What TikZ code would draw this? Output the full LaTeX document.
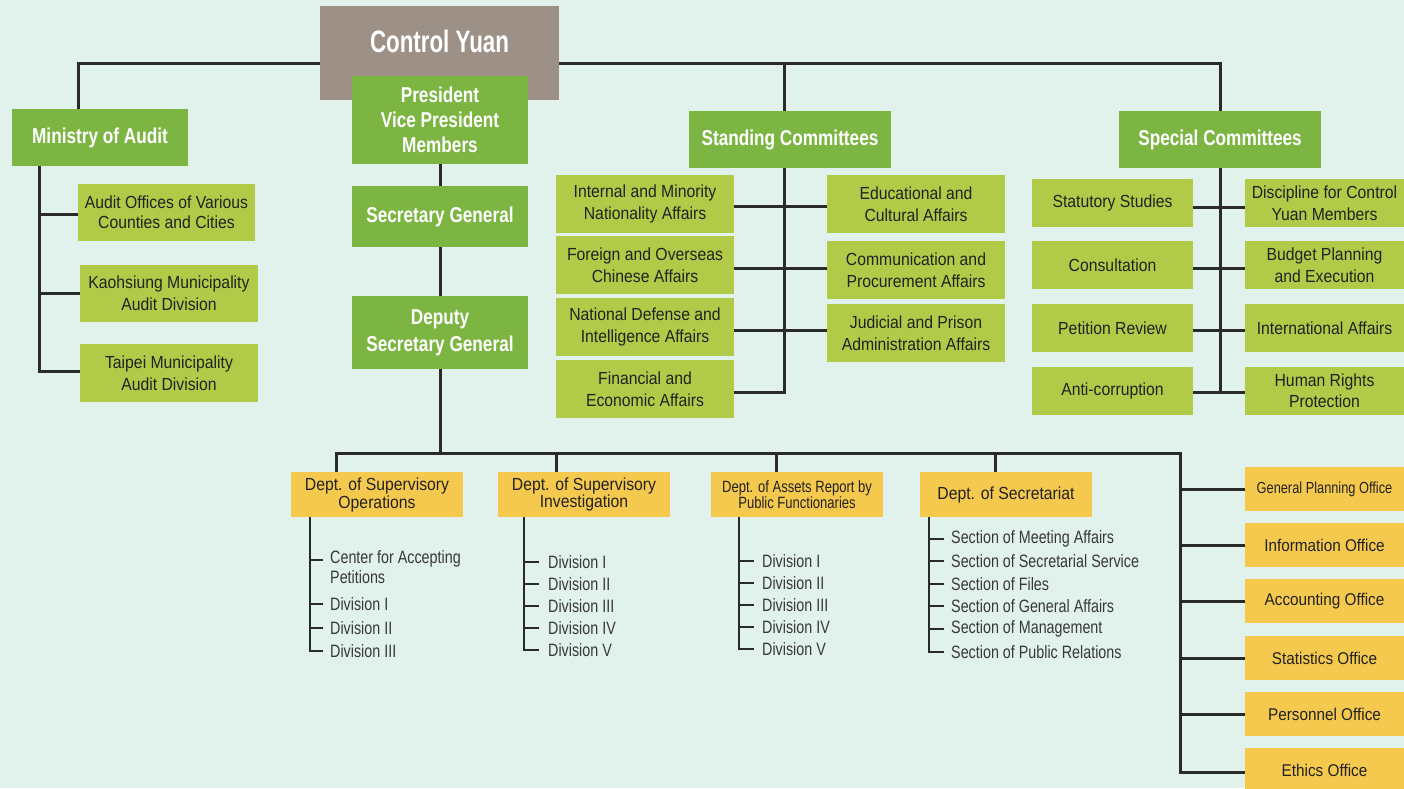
\documentclass[tikz,border=0pt]{standalone}
\usepackage{fontspec}
\setmainfont{Liberation Sans}[FakeStretch=0.9]
\newfontfamily\nfont{Liberation Sans}[FakeStretch=0.8]
\newfontfamily\cfont{Liberation Sans}[FakeStretch=0.72]
\definecolor{bgc}{HTML}{E1F2EC}
\definecolor{dgreen}{HTML}{7DB543}
\definecolor{lgreen}{HTML}{B1CB48}
\definecolor{yell}{HTML}{F5C84E}
\definecolor{cgray}{HTML}{9C9087}
\definecolor{txt}{HTML}{222222}
\definecolor{subtxt}{HTML}{383838}
\definecolor{linec}{HTML}{2A2A2A}
\pgfdeclarelayer{background}
\pgfdeclarelayer{edges}
\pgfsetlayers{background,edges,main}
\tikzset{
  box/.style={rectangle, inner sep=0pt, align=center},
  dg/.style={box, fill=dgreen, text=white, font=\nfont\bfseries\fontsize{21.5}{25}\selectfont},
  lg/.style={box, fill=lgreen, text=txt, font=\fontsize{17.5}{21.5}\selectfont},
  yl/.style={box, fill=yell, text=txt, font=\fontsize{17.5}{18}\selectfont, minimum width=172pt, minimum height=45pt},
  off/.style={box, fill=yell, text=txt, font=\fontsize{17}{20}\selectfont, minimum width=159pt, minimum height=44pt},
  sub/.style={inner sep=0pt, anchor=west, align=left, text=subtxt, font=\nfont\fontsize{17.9}{20}\selectfont},
  conn/.style={draw=linec, line width=3pt},
  tick/.style={draw=linec, line width=2.6pt},
}
\begin{document}
\begin{tikzpicture}[x=1pt,y=-1pt]
\begin{pgfonlayer}{background}
\fill[bgc] (0,0) rectangle (1404,788);
\end{pgfonlayer}
\useasboundingbox (0,0) rectangle (1404,788);

% top
\node[box, fill=cgray, text=white, font=\cfont\bfseries\fontsize{31}{31}\selectfont,
  minimum width=239pt, text height=46pt, text depth=48pt] (cy) at (439.5,53) {Control Yuan};
\node[dg, minimum width=176pt, minimum height=57pt] (mini) at (100,137.5) {Ministry of Audit};
\node[dg, minimum width=176pt, minimum height=88pt] (pres) at (440,120) {President\\Vice President\\Members};
\node[dg, minimum width=176pt, minimum height=61pt] (sg) at (440,216.5) {Secretary General};
\node[dg, minimum width=176pt, minimum height=73pt, font=\nfont\bfseries\fontsize{21.5}{27}\selectfont] (dsg) at (440,332.5) {Deputy\\Secretary General};
\node[dg, minimum width=202pt, minimum height=57pt] (stand) at (790,139.5) {Standing Committees};
\node[dg, minimum width=202pt, minimum height=57pt] (spec) at (1220,139.5) {Special Committees};

% ministry of audit
\node[lg, minimum width=177pt, minimum height=57pt, font=\fontsize{17.5}{20}\selectfont] (ao1) at (166.5,212.5) {Audit Offices of Various\\Counties and Cities};
\node[lg, minimum width=178pt, minimum height=57pt] (ao2) at (169,293) {Kaohsiung Municipality\\Audit Division};
\node[lg, minimum width=178pt, minimum height=58pt] (ao3) at (169,373) {Taipei Municipality\\Audit Division};

% standing committees
\node[lg, minimum width=178pt, minimum height=58pt] (sl1) at (645,204) {Internal and Minority\\Nationality Affairs};
\node[lg, minimum width=178pt, minimum height=58pt] (sl2) at (645,265) {Foreign and Overseas\\Chinese Affairs};
\node[lg, minimum width=178pt, minimum height=58pt] (sl3) at (645,327) {National Defense and\\Intelligence Affairs};
\node[lg, minimum width=178pt, minimum height=58pt] (sl4) at (645,389) {Financial and\\Economic Affairs};
\node[lg, minimum width=178pt, minimum height=58pt] (sr1) at (916,204) {Educational and\\Cultural Affairs};
\node[lg, minimum width=178pt, minimum height=58pt] (sr2) at (916,270) {Communication and\\Procurement Affairs};
\node[lg, minimum width=178pt, minimum height=58pt] (sr3) at (916,333) {Judicial and Prison\\Administration Affairs};

% special committees
\node[lg, minimum width=161pt, minimum height=48pt] (pl1) at (1112.5,203) {Statutory Studies};
\node[lg, minimum width=161pt, minimum height=48pt] (pl2) at (1112.5,265) {Consultation};
\node[lg, minimum width=161pt, minimum height=48pt] (pl3) at (1112.5,328) {Petition Review};
\node[lg, minimum width=161pt, minimum height=48pt] (pl4) at (1112.5,390.5) {Anti-corruption};
\node[lg, minimum width=159pt, minimum height=48pt] (pr1) at (1324.5,203) {Discipline for Control\\Yuan Members};
\node[lg, minimum width=159pt, minimum height=48pt] (pr2) at (1324.5,265) {Budget Planning\\and Execution};
\node[lg, minimum width=159pt, minimum height=48pt] (pr3) at (1324.5,328) {International Affairs};
\node[lg, minimum width=159pt, minimum height=48pt] (pr4) at (1324.5,390.5) {Human Rights\\Protection};

% departments
\node[yl] (d1) at (377,494.5) {Dept. of Supervisory\\Operations};
\node[yl, font=\fontsize{17.5}{17}\selectfont] (d2) at (584,494.5) {Dept. of Supervisory\\Investigation};
\node[yl, font=\nfont\fontsize{16.3}{16.5}\selectfont] (d3) at (797,494.5) {Dept. of Assets Report by\\Public Functionaries};
\node[yl] (d4) at (1006,494.5) {Dept. of Secretariat};

% offices
\node[off, font=\nfont\fontsize{16}{18}\selectfont] (of1) at (1324.5,489) {General Planning Office};
\node[off] (of2) at (1324.5,545) {Information Office};
\node[off] (of3) at (1324.5,601) {Accounting Office};
\node[off] (of4) at (1324.5,658) {Statistics Office};
\node[off] (of5) at (1324.5,714) {Personnel Office};
\node[off] (of6) at (1324.5,770) {Ethics Office};

% sub-items
\node[sub] (o1) at (330,567) {Center for Accepting\\Petitions};
\node[sub] (o2) at (330,604) {Division I};
\node[sub] (o3) at (330,628) {Division II};
\node[sub] (o4) at (330,651) {Division III};

\node[sub] (i1) at (548,562) {Division I};
\node[sub] (i2) at (548,584) {Division II};
\node[sub] (i3) at (548,606) {Division III};
\node[sub] (i4) at (548,628) {Division IV};
\node[sub] (i5) at (548,650) {Division V};

\node[sub] (a1) at (762,561) {Division I};
\node[sub] (a2) at (762,583) {Division II};
\node[sub] (a3) at (762,605) {Division III};
\node[sub] (a4) at (762,627) {Division IV};
\node[sub] (a5) at (762,649) {Division V};

\node[sub] (s1) at (951,539) {Section of Meeting Affairs};
\node[sub] (s2) at (951,561) {Section of Secretarial Service};
\node[sub] (s3) at (951,584) {Section of Files};
\node[sub] (s4) at (951,606) {Section of General Affairs};
\node[sub] (s5) at (951,629) {Section of Management};
\node[sub] (s6) at (951,652) {Section of Public Relations};

\coordinate (top) at (439,63);
\coordinate (bus) at (dsg.south |- 0,453);
\coordinate (rb) at (1180,453);

\begin{pgfonlayer}{edges}
% top level
\draw[conn] ([xshift=-22pt]mini.north) |- (top) -| (spec.north);
\coordinate (sv) at ([xshift=-6pt]stand.north);
\draw[conn] (sv) -- (sv |- top);
% ministry
\coordinate (mv) at ([xshift=-61pt]mini.south);
\coordinate (m3) at ([yshift=2pt]ao3.west);
\draw[conn] (mv) |- (m3);
\coordinate (m1) at ([yshift=-1.5pt]ao1.west);
\draw[conn] (m1) -- (m1 -| mv);
\draw[conn] (ao2.west) -- (ao2.west -| mv);
% president chain
\draw[conn] (pres.south) -- (sg.north);
\draw[conn] (sg.south) -- (dsg.north);
\draw[conn] (dsg.south) -- (bus);
% standing
\coordinate (sv2) at ([xshift=-6pt]stand.south);
\coordinate (b4) at ([yshift=-3pt]sl4.east);
\draw[conn] (sv2) |- (b4);
\coordinate (b1) at ([yshift=-2pt]sl1.east);
\draw[conn] (b1) -- (b1 -| sr1.west);
\coordinate (b2) at ([yshift=-3pt]sl2.east);
\draw[conn] (b2) -- (b2 -| sr2.west);
\coordinate (b3) at ([yshift=-3pt]sl3.east);
\draw[conn] (b3) -- (b3 -| sr3.west);
% special
\coordinate (c4) at ([yshift=-1.5pt]pl4.east);
\draw[conn] (spec.south) |- (c4);
\draw[conn] (c4) -- (c4 -| pr4.west);
\coordinate (c1) at ([yshift=-4pt]pl1.east);
\draw[conn] (c1) -- (c1 -| pr1.west);
\coordinate (c2) at ([yshift=-3pt]pl2.east);
\draw[conn] (c2) -- (c2 -| pr2.west);
\coordinate (c3) at ([yshift=-2pt]pl3.east);
\draw[conn] (c3) -- (c3 -| pr3.west);
% departments bus
\draw[conn] ([xshift=-41pt]d1.north) |- (rb) |- ([yshift=-2pt]of6.west);
\coordinate (d2t) at ([xshift=-28pt]d2.north);
\draw[conn] (d2t) -- (d2t |- bus);
\coordinate (d3t) at ([xshift=-21pt]d3.north);
\draw[conn] (d3t) -- (d3t |- bus);
\coordinate (d4t) at ([xshift=-11pt]d4.north);
\draw[conn] (d4t) -- (d4t |- bus);
\foreach \o in {of1,of2,of3,of4,of5}{\draw[conn] (\o.west) -- (\o.west -| rb);}
% sub lists
\coordinate (ot1) at ([xshift=-7pt,yshift=7pt]o1.west);
\draw[tick] ([xshift=-67pt]d1.south) |- ([xshift=-7pt]o4.west);
\draw[tick] (ot1) -- ++(-13,0);
\foreach \o in {o2,o3}{\draw[tick] ([xshift=-7pt]\o.west) -- ([xshift=-20pt]\o.west);}
\draw[tick] ([xshift=-60pt]d2.south) |- ([xshift=-9pt]i5.west);
\foreach \o in {i1,i2,i3,i4}{\draw[tick] ([xshift=-9pt]\o.west) -- ([xshift=-24pt]\o.west);}
\draw[tick] ([xshift=-58pt]d3.south) |- ([xshift=-8pt]a5.west);
\foreach \o in {a1,a2,a3,a4}{\draw[tick] ([xshift=-8pt]\o.west) -- ([xshift=-23pt]\o.west);}
\draw[tick] ([xshift=-77pt]d4.south) |- ([xshift=-7pt]s6.west);
\foreach \o in {s1,s2,s3,s4,s5}{\draw[tick] ([xshift=-7pt]\o.west) -- ([xshift=-22pt]\o.west);}
\end{pgfonlayer}
\end{tikzpicture}
\end{document}
